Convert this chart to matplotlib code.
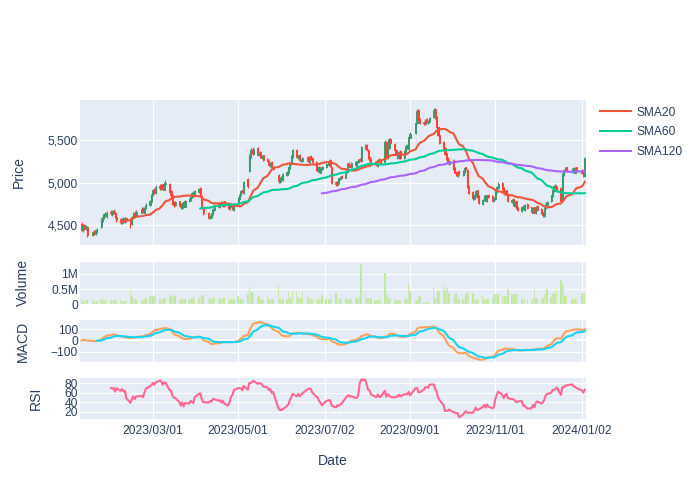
import numpy as np
import pandas as pd
import matplotlib
matplotlib.use("Agg")
import matplotlib.pyplot as plt
import matplotlib.dates as mdates
from matplotlib.ticker import FixedLocator, FuncFormatter

plt.rcParams['font.family'] = ['Liberation Sans', 'DejaVu Sans']

# trading calendar (weekdays minus market holidays)
start_day = "2023-01-09"
end_day = "2024-01-04"
holidays = ["2023-01-16", "2023-02-20", "2023-04-07", "2023-05-29", "2023-06-19",
            "2023-07-04", "2023-09-04", "2023-11-23", "2023-12-25", "2024-01-01"]

# daily OHLC, one row per week
open_ = [4520, 4450, 4500, 4460, 4480,  4390, 4430, 4400, 4430,
         4480, 4560, 4590, 4640, 4610,  4660, 4630, 4670, 4650, 4600,
         4570, 4530, 4580, 4540, 4590,  4570, 4510, 4590, 4650, 4610,
         4650, 4700, 4650, 4700,  4740, 4770, 4850, 4920, 4880,
         4960, 4930, 4980, 4920, 4980,  4990, 4900, 4850, 4770, 4740,
         4780, 4750, 4700, 4770, 4720,  4780, 4800, 4830, 4890, 4850,
         4890, 4940, 4840, 4710,  4650, 4580, 4600, 4630, 4680,
         4750, 4710, 4770, 4730, 4780,  4740, 4690, 4750, 4730, 4680,
         4750, 4810, 4850, 4910, 4880,  5040, 5140, 5300, 5390, 5340,
         5410, 5320, 5360, 5290, 5320,  5280, 5260, 5200, 5240, 5190,
         5090, 5010, 5070, 5030,  5090, 5120, 5170, 5220, 5300,
         5390, 5290, 5330, 5260, 5250,  5300, 5240, 5310, 5290,
         5240, 5140, 5190, 5120, 5160,  5180, 5210, 5270, 5180,
         5010, 4970, 5000, 5040, 5080,  5060, 5130, 5230, 5210, 5180,
         5240, 5200, 5240, 5280, 5250,  5410, 5440, 5390, 5300, 5280,
         5220, 5250, 5200, 5280, 5260,  5240, 5480, 5290, 5410, 5510,
         5460, 5390, 5340, 5290, 5370,  5290, 5360, 5440, 5400, 5530,
         5580, 5700, 5850, 5750,  5710, 5690, 5750, 5700, 5720,
         5770, 5860, 5770, 5650, 5560,  5480, 5410, 5350, 5290, 5220,
         5270, 5170, 5130, 5080, 5140,  5090, 5130, 5180, 5150, 4960,
         4890, 4810, 4840, 4910, 4840,  4750, 4800, 4850, 4780, 4860,
         4840, 4780, 4810, 4890, 4940,  5000, 4940, 4870, 4910, 4870,
         4770, 4810, 4730, 4780, 4710,  4670, 4730, 4680, 4750,
         4710, 4650, 4710, 4640, 4730,  4690, 4650, 4610, 4700, 4740,
         4780, 4840, 4900, 4970, 4950,  4940, 4800, 5090, 5140, 5180,
         5130, 5170, 5120, 5180,  5150, 5120, 5080]
high = [4540, 4510, 4520, 4500, 4490,  4430, 4440, 4460, 4470,
        4590, 4620, 4650, 4660, 4670,  4680, 4680, 4690, 4670, 4610,
        4580, 4590, 4600, 4600, 4600,  4580, 4610, 4660, 4670, 4680,
        4710, 4720, 4720, 4760,  4800, 4870, 4930, 4940, 4970,
        4980, 4990, 4990, 5010, 5030,  5000, 4920, 4860, 4790, 4790,
        4790, 4760, 4770, 4780, 4800,  4820, 4850, 4890, 4900, 4910,
        4940, 4950, 4850, 4720,  4660, 4620, 4650, 4700, 4750,
        4760, 4770, 4780, 4780, 4790,  4750, 4750, 4760, 4740, 4750,
        4830, 4870, 4910, 4920, 5020,  5060, 5340, 5410, 5400, 5420,
        5420, 5360, 5370, 5330, 5330,  5290, 5270, 5240, 5250, 5200,
        5100, 5070, 5080, 5110,  5140, 5190, 5240, 5320, 5400,
        5400, 5330, 5340, 5280, 5300,  5310, 5310, 5320, 5300,
        5250, 5190, 5200, 5180, 5200,  5230, 5270, 5280, 5190,
        5020, 5020, 5060, 5080, 5090,  5150, 5230, 5240, 5220, 5240,
        5250, 5260, 5280, 5290, 5430,  5460, 5450, 5400, 5310, 5290,
        5250, 5260, 5280, 5290, 5270,  5500, 5490, 5430, 5530, 5520,
        5470, 5400, 5350, 5370, 5380,  5380, 5440, 5450, 5550, 5590,
        5710, 5860, 5870, 5760,  5720, 5750, 5760, 5740, 5770,
        5880, 5880, 5780, 5660, 5570,  5490, 5420, 5360, 5300, 5270,
        5280, 5180, 5140, 5140, 5150,  5150, 5180, 5190, 5160, 4970,
        4900, 4860, 4910, 4920, 4850,  4810, 4850, 4860, 4860, 4870,
        4850, 4830, 4910, 4960, 5010,  5010, 4950, 4910, 4920, 4880,
        4810, 4820, 4780, 4790, 4720,  4730, 4740, 4750, 4760,
        4720, 4710, 4720, 4730, 4740,  4700, 4660, 4710, 4760, 4780,
        4860, 4920, 4970, 4980, 4960,  4950, 5110, 5160, 5180, 5190,
        5170, 5180, 5180, 5190,  5160, 5130, 5300]
low = [4430, 4420, 4450, 4440, 4360,  4370, 4390, 4390, 4410,
       4470, 4540, 4570, 4600, 4590,  4620, 4610, 4630, 4590, 4540,
       4520, 4520, 4530, 4530, 4540,  4470, 4500, 4580, 4600, 4600,
       4640, 4640, 4640, 4690,  4730, 4760, 4840, 4870, 4870,
       4920, 4920, 4910, 4910, 4960,  4870, 4830, 4740, 4720, 4730,
       4730, 4690, 4690, 4720, 4710,  4770, 4790, 4820, 4850, 4840,
       4880, 4840, 4690, 4620,  4570, 4570, 4590, 4620, 4670,
       4710, 4700, 4730, 4720, 4720,  4690, 4680, 4710, 4680, 4670,
       4740, 4800, 4840, 4880, 4870,  4940, 5130, 5290, 5340, 5330,
       5320, 5310, 5290, 5280, 5260,  5250, 5200, 5190, 5170, 5150,
       5000, 5000, 5030, 5020,  5080, 5110, 5160, 5210, 5290,
       5290, 5280, 5260, 5240, 5240,  5240, 5230, 5270, 5230,
       5140, 5130, 5120, 5110, 5150,  5170, 5200, 5190, 4990,
       4960, 4960, 4990, 5030, 5050,  5050, 5120, 5190, 5180, 5170,
       5200, 5190, 5230, 5250, 5240,  5400, 5370, 5280, 5260, 5220,
       5210, 5200, 5190, 5240, 5220,  5230, 5290, 5280, 5400, 5460,
       5370, 5320, 5280, 5280, 5280,  5280, 5350, 5400, 5390, 5520,
       5570, 5690, 5730, 5690,  5680, 5680, 5700, 5690, 5710,
       5760, 5750, 5650, 5550, 5460,  5390, 5330, 5270, 5220, 5210,
       5150, 5110, 5080, 5070, 5090,  5080, 5120, 5150, 4940, 4870,
       4800, 4800, 4830, 4820, 4750,  4740, 4790, 4780, 4770, 4820,
       4780, 4770, 4800, 4880, 4930,  4920, 4870, 4860, 4850, 4770,
       4760, 4730, 4720, 4690, 4670,  4660, 4680, 4670, 4690,
       4650, 4640, 4640, 4630, 4670,  4630, 4600, 4600, 4690, 4730,
       4770, 4830, 4890, 4930, 4920,  4770, 4790, 5080, 5130, 5130,
       5120, 5120, 5110, 5130,  5100, 5070, 5070]
close = [4450, 4490, 4470, 4480, 4390,  4420, 4410, 4440, 4450,
         4570, 4600, 4630, 4620, 4650,  4640, 4660, 4650, 4600, 4560,
         4540, 4570, 4550, 4580, 4560,  4520, 4600, 4640, 4620, 4660,
         4690, 4660, 4700, 4740,  4780, 4860, 4910, 4890, 4950,
         4940, 4970, 4930, 4990, 5000,  4890, 4850, 4760, 4740, 4770,
         4740, 4710, 4760, 4730, 4790,  4810, 4840, 4880, 4860, 4900,
         4930, 4850, 4700, 4640,  4590, 4610, 4640, 4690, 4740,
         4720, 4760, 4740, 4770, 4730,  4700, 4740, 4720, 4690, 4740,
         4820, 4860, 4900, 4890, 5010,  4960, 5320, 5380, 5350, 5400,
         5330, 5350, 5300, 5310, 5270,  5260, 5210, 5230, 5180, 5160,
         5020, 5060, 5040, 5100,  5130, 5180, 5230, 5310, 5380,
         5300, 5320, 5270, 5260, 5290,  5250, 5300, 5280, 5240,
         5150, 5180, 5130, 5170, 5190,  5220, 5260, 5200, 5000,
         4980, 5010, 5050, 5070, 5060,  5140, 5220, 5200, 5190, 5230,
         5210, 5250, 5270, 5260, 5420,  5440, 5380, 5290, 5270, 5230,
         5240, 5210, 5270, 5250, 5230,  5480, 5300, 5420, 5510, 5470,
         5380, 5330, 5300, 5360, 5290,  5370, 5430, 5410, 5540, 5570,
         5700, 5840, 5740, 5700,  5700, 5740, 5710, 5730, 5760,
         5850, 5760, 5660, 5560, 5470,  5400, 5340, 5280, 5230, 5260,
         5160, 5120, 5090, 5130, 5100,  5140, 5170, 5160, 4950, 4880,
         4820, 4850, 4900, 4830, 4760,  4800, 4840, 4790, 4850, 4830,
         4790, 4820, 4900, 4950, 4990,  4930, 4880, 4900, 4860, 4780,
         4800, 4740, 4770, 4700, 4680,  4720, 4690, 4740, 4700,
         4660, 4700, 4650, 4720, 4680,  4640, 4620, 4700, 4750, 4770,
         4850, 4910, 4960, 4940, 4930,  4780, 5100, 5150, 5170, 5140,
         5160, 5130, 5170, 5140,  5110, 5080, 5290]
# volume in thousands of shares
volume_k = [220, 120, 130, 120, 140,  190, 110, 110, 110,
            190, 190, 130, 130, 130,  130, 130, 130, 130, 130,
            170, 120, 120, 120, 120,  420, 280, 190, 190, 190,
            130, 130, 220, 220,  280, 280, 280, 290, 310,
            190, 190, 190, 200, 190,  300, 280, 280, 360, 280,
            170, 170, 170, 160, 170,  190, 190, 200, 270, 220,
            220, 220, 300, 300,  220, 220, 220, 220, 220,
            220, 220, 220, 220, 220,  170, 170, 170, 170, 170,
            270, 190, 190, 190, 190,  330, 570, 420, 400, 380,
            220, 280, 190, 190, 190,  280, 190, 190, 190, 190,
            680, 190, 190, 190,  190, 440, 220, 220, 440,
            440, 220, 220, 220, 420,  250, 170, 170, 170,
            170, 170, 170, 170, 310,  190, 190, 190, 300,
            360, 190, 190, 190, 250,  250, 170, 170, 170, 220,
            220, 220, 220, 300, 1330,  440, 220, 220, 220, 220,
            130, 130, 130, 130, 250,  1020, 280, 380, 220, 220,
            130, 130, 130, 130, 130,  170, 170, 170, 700, 420,
            150, 150, 280, 280,  80, 80, 80, 80, 80,
            520, 220, 220, 420, 420,  650, 420, 560, 560, 360,
            250, 250, 380, 190, 190,  190, 190, 380, 380, 380,
            380, 190, 190, 190, 190,  330, 190, 190, 190, 190,
            190, 330, 330, 330, 330,  280, 280, 280, 280, 510,
            330, 330, 330, 330, 330,  190, 190, 190, 190,
            190, 190, 500, 220, 220,  220, 220, 330, 330, 510,
            250, 380, 380, 380, 480,  800, 650, 650, 280, 280,
            170, 170, 170, 170,  380, 380, 380]

tick_dates = ["2023-03-01", "2023-05-01", "2023-07-02", "2023-09-01", "2023-11-01", "2024-01-02"]
sma_windows = [20, 60, 120]
sma_colors = ['#EF553B', '#00CC96', '#AB63FA']

days = pd.bdate_range(start_day, end_day)
days = days[~days.isin(pd.to_datetime(holidays))]
df = pd.DataFrame({'open': open_, 'high': high, 'low': low, 'close': close,
                   'volume': np.array(volume_k) * 1000}, index=days)

# indicators
for w in sma_windows:
    df['SMA%d' % w] = df['close'].rolling(w).mean()
ema12 = df['close'].ewm(span=12, adjust=False).mean()
ema26 = df['close'].ewm(span=26, adjust=False).mean()
df['macd'] = ema12 - ema26
df['signal'] = df['macd'].ewm(span=9, adjust=False, min_periods=9).mean()
delta = df['close'].diff()
gain = delta.clip(lower=0).rolling(14).mean()
loss = (-delta.clip(upper=0)).rolling(14).mean()
df['rsi'] = 100 - 100 / (1 + gain / loss)

TEXT = '#2a3f5f'
BG = '#E5ECF6'
FS = 8.64
TFS = 10.1

fig = plt.figure(figsize=(7, 5), dpi=100)
fig.patch.set_facecolor('white')


def add_panel(top, bottom):
    ax = fig.add_axes([80 / 700, 1 - bottom / 500, 506 / 700, (bottom - top) / 500])
    ax.set_facecolor(BG)
    for s in ax.spines.values():
        s.set_visible(False)
    ax.grid(True, color='white', lw=0.8)
    ax.set_axisbelow(True)
    ax.tick_params(length=0, labelsize=FS, colors=TEXT, pad=1.5)
    return ax


ax_p = add_panel(100, 245)
ax_v = add_panel(261.7, 304.3)
ax_m = add_panel(320, 361.7)
ax_r = add_panel(377.7, 419.3)

x = mdates.date2num(df.index)
up = df['close'] >= df['open']
cols = np.where(up, '#3D9970', '#FF4136')

# candles
ax_p.vlines(x, df['low'], df['high'], colors=cols, lw=0.8, zorder=2)
ax_p.bar(x, (df['close'] - df['open']).abs(), bottom=df[['open', 'close']].min(axis=1),
         width=0.8, color=cols, edgecolor=cols, linewidth=0.7, zorder=2)
handles = []
for w, c in zip(sma_windows, sma_colors):
    ln, = ax_p.plot(x, df['SMA%d' % w], color=c, lw=1.5, zorder=3)
    handles.append(ln)
lo, hi = df['low'].min(), df['high'].max()
pad = (hi - lo) * 0.06
ax_p.set_ylim(lo - pad, hi + pad)
ax_p.yaxis.set_major_locator(FixedLocator([4500, 5000, 5500]))
ax_p.yaxis.set_major_formatter(FuncFormatter(lambda v, p: '{:,.0f}'.format(v)))

# volume
ax_v.bar(x, df['volume'], width=1.0, color='#B6E880', edgecolor=BG, linewidth=0.3, zorder=2)
ax_v.set_ylim(0, df['volume'].max() * 1.05)
ax_v.yaxis.set_major_locator(FixedLocator([0, 5e5, 1e6]))
ax_v.set_yticklabels(['0', '0.5M', '1M'])

# MACD
ax_m.axhline(0, color='white', lw=1.5, zorder=1)
ax_m.plot(x, df['macd'], color='#FFA15A', lw=1.5, zorder=3)
ax_m.plot(x, df['signal'], color='#19D3F3', lw=1.5, zorder=3)
mlo = min(df['macd'].min(), df['signal'].min())
mhi = max(df['macd'].max(), df['signal'].max())
mp = (mhi - mlo) * 0.055
ax_m.set_ylim(mlo - mp, mhi + mp)
ax_m.yaxis.set_major_locator(FixedLocator([-100, 0, 100]))

# RSI
ax_r.plot(x, df['rsi'], color='#FF6692', lw=1.5, zorder=3)
rlo, rhi = df['rsi'].min(), df['rsi'].max()
rp = (rhi - rlo) * 0.055
ax_r.set_ylim(rlo - rp, rhi + rp)
ax_r.yaxis.set_major_locator(FixedLocator([20, 40, 60, 80]))

ticks = mdates.date2num(pd.to_datetime(tick_dates))
for ax in (ax_p, ax_v, ax_m, ax_r):
    ax.set_xlim(x[0] - 1.1, x[-1] + 0.9)
    ax.xaxis.set_major_locator(FixedLocator(ticks))
    if ax is not ax_r:
        ax.tick_params(labelbottom=False)
ax_r.xaxis.set_major_formatter(mdates.DateFormatter('%Y/%m/%d'))
ax_r.tick_params(axis='x', pad=4)

# axis titles
fig.text(19 / 700, 1 - 172.5 / 500, 'Price', rotation=90, ha='center', va='center', fontsize=TFS, color=TEXT)
fig.text(23 / 700, 1 - 283 / 500, 'Volume', rotation=90, ha='center', va='center', fontsize=TFS, color=TEXT)
fig.text(23 / 700, 1 - 341 / 500, 'MACD', rotation=90, ha='center', va='center', fontsize=TFS, color=TEXT)
fig.text(36 / 700, 1 - 398 / 500, 'RSI', rotation=90, ha='center', va='center', fontsize=TFS, color=TEXT)
fig.text(333 / 700, 1 - 461 / 500, 'Date', ha='center', va='center', fontsize=TFS, color=TEXT)

fig.legend(handles, ['SMA20', 'SMA60', 'SMA120'], loc='upper left',
           bbox_to_anchor=(0.852, 0.794), frameon=False, fontsize=FS,
           labelcolor=TEXT, handlelength=2.6, handletextpad=0.45,
           labelspacing=0.65, borderaxespad=0, borderpad=0.3)

fig.savefig('out.png', dpi=100)
